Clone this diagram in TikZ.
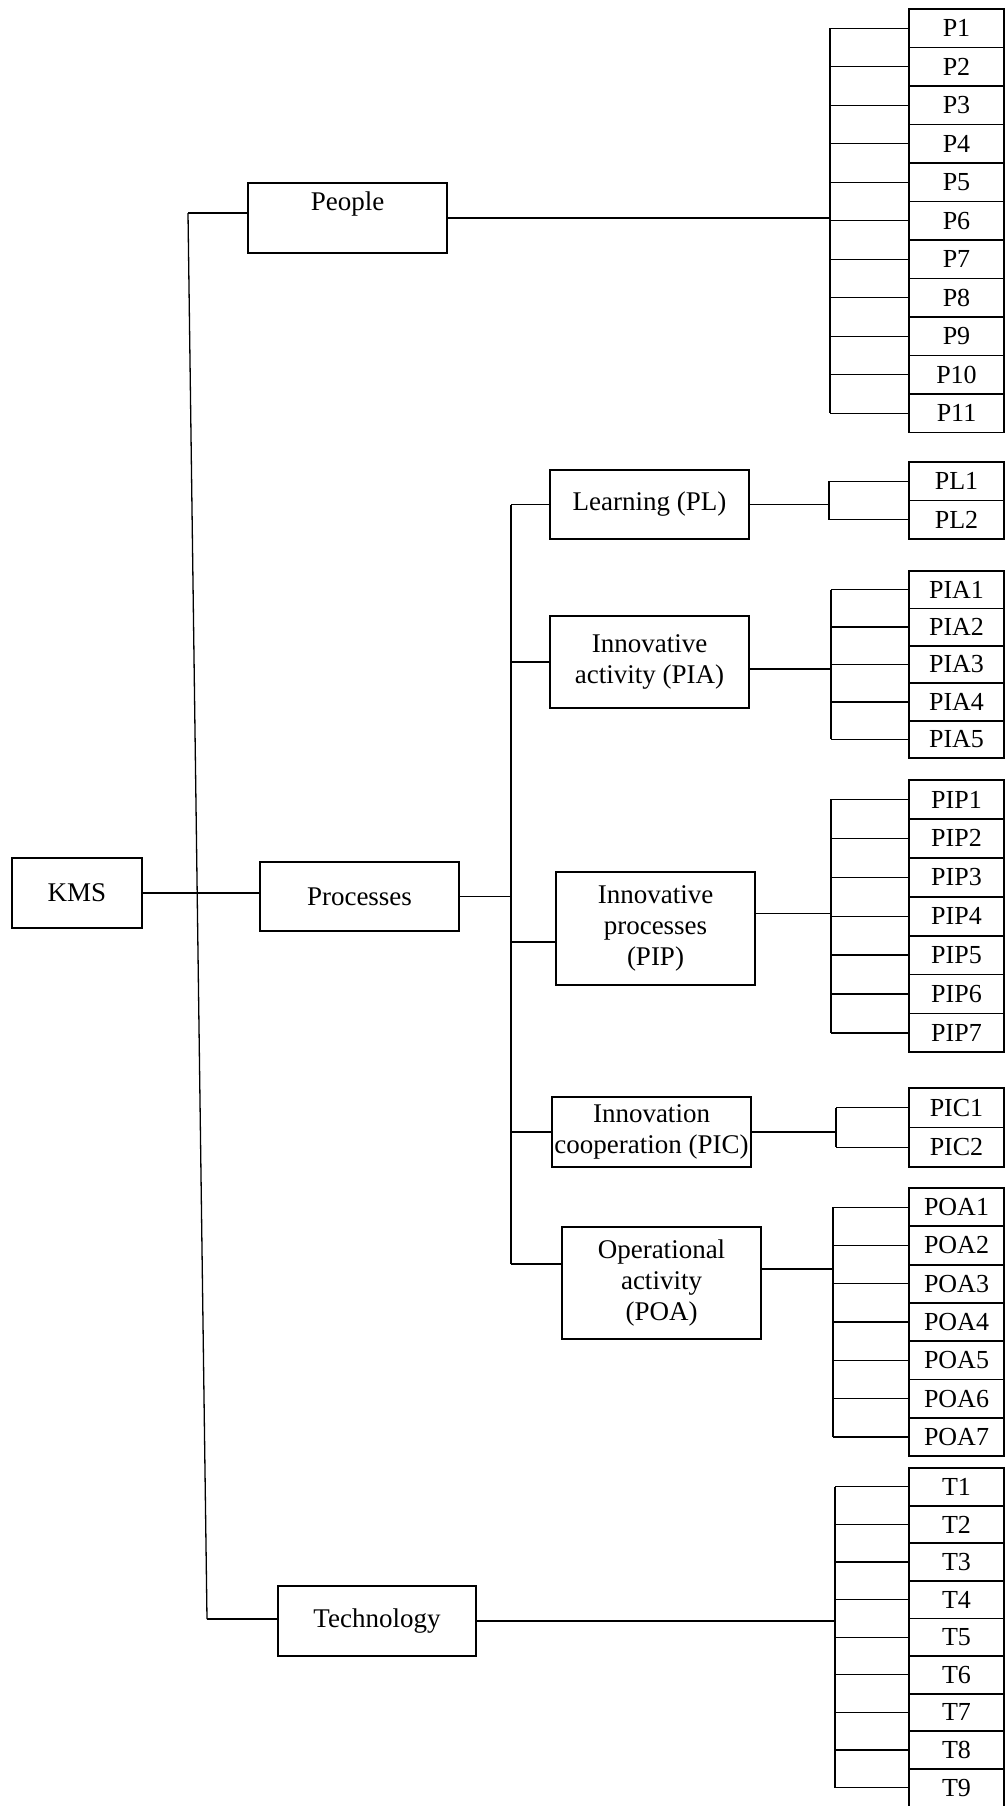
\documentclass[tikz,border=0pt]{standalone}
\usepackage{fontspec}
\setmainfont{Liberation Serif}
\tikzset{
  box/.style={draw, line width=1.8pt, inner sep=1pt, align=center, font=\fontsize{27}{31}\selectfont},
  leaf/.style={draw, line width=1.8pt, inner sep=0pt, minimum width=95pt, font=\fontsize{26}{31}\selectfont},
  link/.style={line width=1.3pt}
}
\begin{document}
\begin{tikzpicture}[x=1pt,y=-1pt]
\useasboundingbox (0,0) rectangle (1006,1806);

% main boxes
\node[box, minimum width=130pt, minimum height=70pt] (kms) at (77,893) {KMS};
\node[box, minimum width=199pt, minimum height=70pt, text height=19pt, text depth=34pt] (people) at (347.5,218) {People};
\node[box, minimum width=199pt, minimum height=69pt] (proc) at (359.5,896.5) {Processes};
\node[box, minimum width=198pt, minimum height=70pt] (tech) at (377,1621) {Technology};

\node[box, minimum width=199pt, minimum height=69pt] (pl) at (649.5,504.5) {Learning (PL)};
\node[box, minimum width=199pt, minimum height=92pt] (pia) at (649.5,662) {Innovative\\activity (PIA)};
\node[box, minimum width=199pt, minimum height=113pt] (pip) at (655.5,928.5) {Innovative\\processes\\(PIP)};
\node[box, minimum width=199pt, minimum height=70pt] (pic) at (651.5,1132) {Innovation\\cooperation (PIC)};
\node[box, minimum width=199pt, minimum height=112pt] (poa) at (661.5,1283) {Operational\\activity\\(POA)};

% trunk from KMS
\coordinate (top) at (188,213);
\coordinate (bot) at (207,1619);
\draw[link] (top) -- (bot);
\draw[link] (top) -- (top -| people.west);
\draw[link] (bot) -- (bot -| tech.west);
\draw[link] (kms.east) -- (kms.east -| proc.west);

% processes branch
\coordinate (sub) at (511,0);
\coordinate (pipin) at ([yshift=-13.5pt]pip.west);
\coordinate (poain) at ([yshift=19pt]poa.west);
\draw[link] (sub |- pl.west) -- (sub |- poain);
\draw[link] (proc.east) -- (sub |- proc.east);
\draw[link] (sub |- pl.west) -- (pl.west);
\draw[link] (sub |- pia.west) -- (pia.west);
\draw[link] (sub |- pipin) -- (pipin);
\draw[link] (sub |- pic.west) -- (pic.west);
\draw[link] (sub |- poain) -- (poain);

% people items
\coordinate (pbar) at (830,0);
\foreach \i in {1,...,11}{
  \node[leaf, minimum height=38.5pt] (P\i) at (956.5,{9+38.5*(\i-0.5)}) {P\i};
  \draw[link] (pbar |- P\i.west) -- (P\i.west);
}
\draw[link] (pbar |- P1.west) -- (pbar |- P11.west);
\draw[link] (people.east) -- (people.east -| pbar);

% learning items
\coordinate (plbar) at (829,0);
\foreach \i in {1,2}{
  \node[leaf, minimum height=38.5pt] (PL\i) at (956.5,{462+38.5*(\i-0.5)}) {PL\i};
  \draw[link] (plbar |- PL\i.west) -- (PL\i.west);
}
\draw[link] (plbar |- PL1.west) -- (plbar |- PL2.west);
\draw[link] (pl.east) -- (pl.east -| plbar);

% innovative activity items
\coordinate (piabar) at (831,0);
\foreach \i in {1,...,5}{
  \node[leaf, minimum height=37.4pt] (PIA\i) at (956.5,{571+37.4*(\i-0.5)}) {PIA\i};
  \draw[link] (piabar |- PIA\i.west) -- (PIA\i.west);
}
\draw[link] (piabar |- PIA1.west) -- (piabar |- PIA5.west);
\draw[link] ([yshift=-7pt]pia.east) -- ([yshift=-7pt]pia.east -| piabar);

% innovative processes items
\coordinate (pipbar) at (831,0);
\foreach \i in {1,...,7}{
  \node[leaf, minimum height=38.9pt] (PIP\i) at (956.5,{780+38.9*(\i-0.5)}) {PIP\i};
  \draw[link] (pipbar |- PIP\i.west) -- (PIP\i.west);
}
\draw[link] (pipbar |- PIP1.west) -- (pipbar |- PIP7.west);
\draw[link] ([yshift=15pt]pip.east) -- ([yshift=15pt]pip.east -| pipbar);

% innovation cooperation items
\coordinate (picbar) at (836,0);
\foreach \i in {1,2}{
  \node[leaf, minimum height=39.5pt] (PIC\i) at (956.5,{1088+39.5*(\i-0.5)}) {PIC\i};
  \draw[link] (picbar |- PIC\i.west) -- (PIC\i.west);
}
\draw[link] (picbar |- PIC1.west) -- (picbar |- PIC2.west);
\draw[link] (pic.east) -- (pic.east -| picbar);

% operational activity items
\coordinate (poabar) at (833,0);
\foreach \i in {1,...,7}{
  \node[leaf, minimum height=38.3pt] (POA\i) at (956.5,{1188+38.3*(\i-0.5)}) {POA\i};
  \draw[link] (poabar |- POA\i.west) -- (POA\i.west);
}
\draw[link] (poabar |- POA1.west) -- (poabar |- POA7.west);
\draw[link] ([yshift=14pt]poa.east) -- ([yshift=14pt]poa.east -| poabar);

% technology items
\coordinate (tbar) at (835,0);
\foreach \i in {1,...,9}{
  \node[leaf, minimum height=37.6pt] (T\i) at (956.5,{1468+37.6*(\i-0.5)}) {T\i};
  \draw[link] (tbar |- T\i.west) -- (T\i.west);
}
\draw[link] (tbar |- T1.west) -- (tbar |- T9.west);
\draw[link] (tech.east) -- (tech.east -| tbar);
\end{tikzpicture}
\end{document}
